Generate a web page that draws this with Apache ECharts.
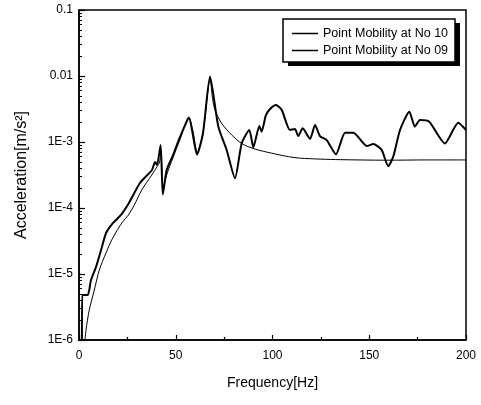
<!DOCTYPE html>
<html>
<head>
<meta charset="utf-8">
<script src="https://cdn.jsdelivr.net/npm/echarts@6/dist/echarts.min.js"></script>
<style>html,body{margin:0;padding:0;background:#fff;}#c{width:481px;height:405px;}</style>
</head>
<body>
<div id="c"></div>
<script>
var seriesNames = ['Point Mobility at No 10', 'Point Mobility at No 09'];
var yTickValues = [1e-6, 1e-5, 1e-4, 1e-3, 0.01, 0.1];
var yTickLabels = ['1E-6', '1E-5', '1E-4', '1E-3', '0.01', '0.1'];
var xTicks = [0, 50, 100, 150, 200];

var no10 = [
  [3.1, 1.0e-6], [3.6, 1.4e-6], [5.3, 2.85e-6], [7.9, 5.7e-6], [10.5, 1.15e-5], [14.0, 2.1e-5],
  [17.4, 3.5e-5], [22.6, 6.2e-5], [25.5, 7.8e-5], [28.6, 1.11e-4], [32.4, 1.87e-4], [37.6, 3.16e-4],
  [40.5, 4.3e-4], [41.5, 4.8e-4], [42.3, 6.5e-4], [43.5, 2.0e-4], [45.5, 3.3e-4], [48.6, 5.8e-4],
  [52.2, 1.1e-3], [56.8, 2.4e-3], [58.8, 1.5e-3], [61.2, 7.0e-4], [64.1, 1.4e-3], [66.5, 5.5e-3],
  [67.7, 9.0e-3], [69.0, 4.6e-3], [70.3, 3.05e-3], [73.7, 1.92e-3], [78.9, 1.28e-3], [84.1, 9.5e-4],
  [91.0, 7.8e-4], [99.6, 6.77e-4], [108.2, 6.0e-4], [114.0, 5.7e-4], [125.0, 5.5e-4], [134.9, 5.4e-4],
  [159.0, 5.3e-4], [180.0, 5.35e-4], [200.0, 5.35e-4]
];
var no09 = [
  [1.5, 1.0e-6], [1.6, 4.8e-6], [4.5, 4.8e-6], [6.2, 8.1e-6], [8.8, 1.28e-5], [11.4, 2.31e-5],
  [14.0, 4.18e-5], [17.6, 5.93e-5], [21.7, 7.84e-5], [25.8, 1.19e-4], [31.5, 2.39e-4], [37.7, 3.77e-4],
  [39.3, 4.98e-4], [40.3, 4.49e-4], [42.2, 9.0e-4], [43.3, 1.6e-4], [45.3, 3.77e-4], [48.6, 6.35e-4],
  [52.2, 1.19e-3], [56.8, 2.3e-3], [61.0, 6.4e-4], [64.1, 1.37e-3], [67.7, 9.8e-3], [72.0, 1.71e-3],
  [76.3, 7.57e-4], [80.6, 2.82e-4], [84.1, 9.55e-4], [88.0, 1.52e-3], [90.1, 8.3e-4], [93.2, 1.75e-3],
  [94.4, 1.43e-3], [96.6, 2.56e-3], [99.1, 3.24e-3], [101.8, 3.64e-3], [104.8, 3.05e-3], [109.0, 1.52e-3],
  [111.6, 1.57e-3], [113.3, 1.23e-3], [115.6, 1.61e-3], [119.4, 1.11e-3], [122.0, 1.81e-3], [124.5, 1.23e-3],
  [128.0, 1.07e-3], [132.8, 6.5e-4], [137.5, 1.38e-3], [141.8, 1.38e-3], [148.7, 8.7e-4], [152.1, 9.3e-4],
  [156.4, 7.6e-4], [159.8, 4.3e-4], [162.4, 6.0e-4], [165.9, 1.52e-3], [170.7, 2.88e-3], [173.6, 1.71e-3],
  [176.2, 2.15e-3], [181.0, 2.03e-3], [189.1, 9.5e-4], [196.0, 1.96e-3], [200.0, 1.52e-3]
];

// minor tick positions (log10 of 2..9 x 10^e) for a hidden linear helper axis
var minorYExp = [];
for (var e = -6; e < -1; e++) {
  for (var m = 2; m <= 9; m++) minorYExp.push(e + Math.log10(m));
}

var chart = echarts.init(document.getElementById('c'));
var font = 'Liberation Sans, Arial, sans-serif';
chart.setOption({
  animation: false,
  graphic: [
    { type: 'rect', z: 1, shape: { x: 288, y: 23, width: 172, height: 43 }, style: { fill: '#000' } },
    { type: 'rect', z: 2, shape: { x: 283, y: 19, width: 172, height: 43 }, style: { fill: '#fff', stroke: '#000', lineWidth: 1.5 } }
  ],
  grid: { left: 79, top: 10, right: 15, bottom: 65, show: true, borderColor: '#000', borderWidth: 1.5, backgroundColor: 'transparent' },
  legend: {
    data: seriesNames,
    orient: 'vertical',
    left: 283, top: 19, z: 10,
    padding: [7, 4, 7, 9],
    itemGap: 2,
    itemWidth: 26, itemHeight: 1.5,
    icon: 'rect',
    textStyle: { fontFamily: font, fontSize: 12.5, color: '#000', lineHeight: 15 }
  },
  xAxis: {
    type: 'value', min: 0, max: 200, interval: 50,
    axisLine: { show: true, onZero: false, lineStyle: { color: '#000', width: 1.5 } },
    axisTick: { show: true, inside: true, length: 5, lineStyle: { color: '#000', width: 1.2 } },
    minorTick: { show: true, splitNumber: 2, length: 3, lineStyle: { color: '#000', width: 1.2 } },
    splitLine: { show: false },
    axisLabel: { color: '#000', fontFamily: font, fontSize: 12, margin: 10 },
    name: 'Frequency[Hz]', nameLocation: 'middle', nameGap: 36,
    nameTextStyle: { color: '#000', fontFamily: font, fontSize: 14 }
  },
  yAxis: [{
    type: 'log', min: 1e-6, max: 0.1, logBase: 10,
    axisLine: { show: true, lineStyle: { color: '#000', width: 1.5 } },
    axisTick: { show: true, inside: true, length: 6, lineStyle: { color: '#000', width: 1.2 } },
    splitLine: { show: false },
    axisLabel: {
      color: '#000', fontFamily: font, fontSize: 12, margin: 6,
      formatter: function (v) {
        for (var i = 0; i < yTickValues.length; i++) {
          if (Math.abs(Math.log10(v) - Math.log10(yTickValues[i])) < 1e-6) return yTickLabels[i];
        }
        return '';
      }
    },
    name: 'Acceleration[m/s\u00B2]', nameLocation: 'middle', nameGap: 49, nameRotate: 90,
    nameTextStyle: { color: '#000', fontFamily: font, fontSize: 16 }
  }, {
    type: 'value', min: -6, max: -1, position: 'left', offset: 0,
    axisLine: { show: false },
    axisTick: { show: true, inside: true, length: 3, customValues: minorYExp, lineStyle: { color: '#000', width: 1 } },
    axisLabel: { show: false, customValues: minorYExp },
    splitLine: { show: false }
  }],
  series: [{
    name: seriesNames[0], type: 'line', data: no10, yAxisIndex: 0,
    symbol: 'none', smooth: 0.3, clip: true,
    lineStyle: { color: '#000', width: 1 }, itemStyle: { color: '#000' }
  }, {
    name: seriesNames[1], type: 'line', data: no09, yAxisIndex: 0,
    symbol: 'none', smooth: 0.2, clip: true,
    lineStyle: { color: '#000', width: 2 }, itemStyle: { color: '#000' }
  }]
});
</script>
</body>
</html>
